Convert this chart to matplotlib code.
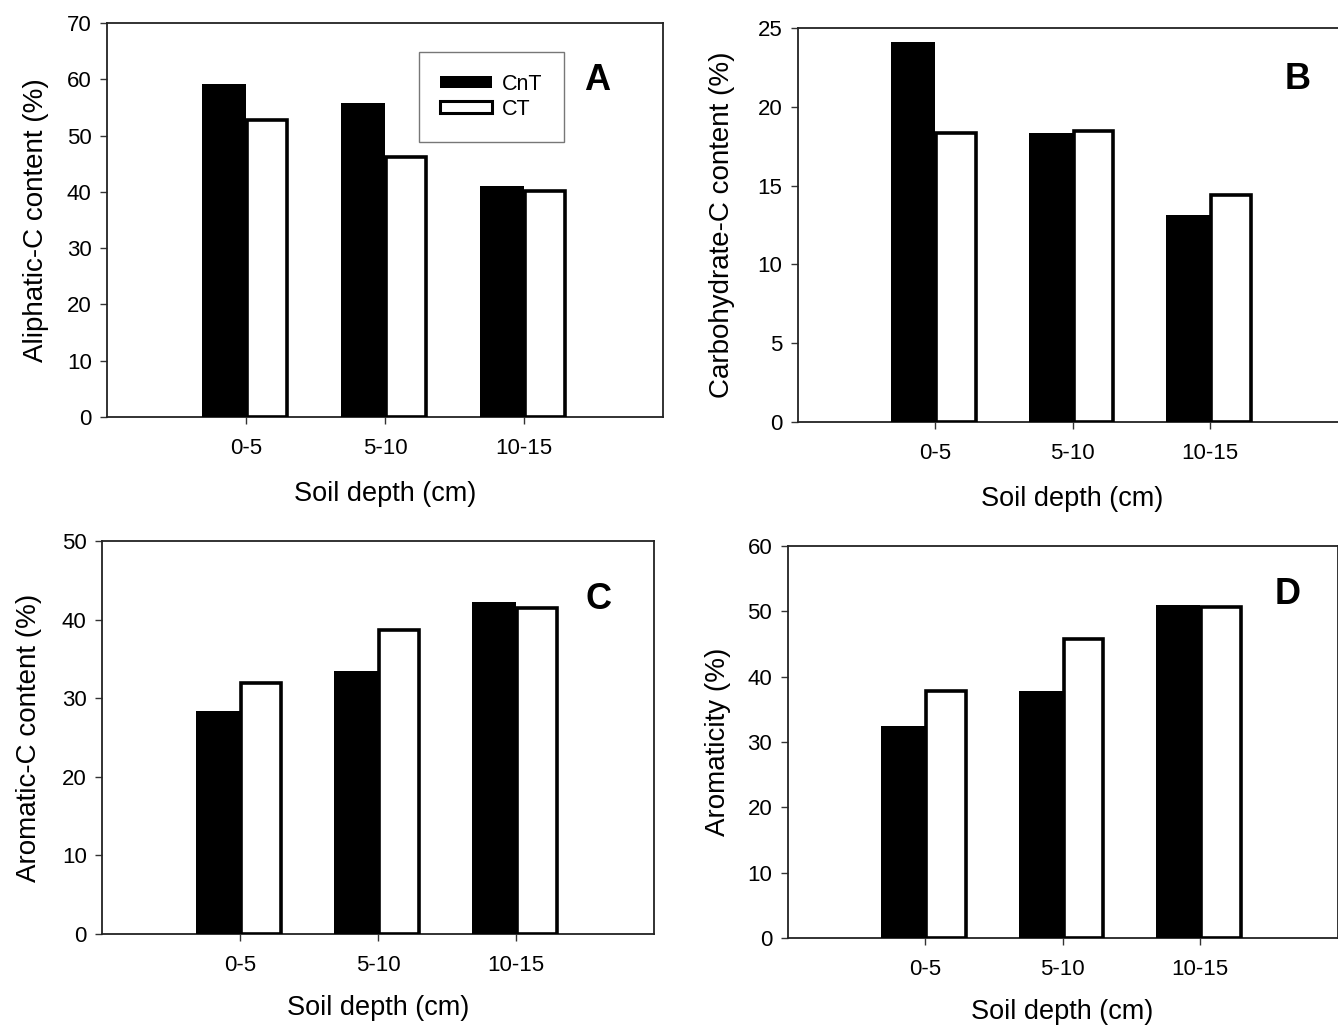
import matplotlib
matplotlib.use("Agg")
import matplotlib.pyplot as plt
from matplotlib.patches import Patch
import numpy as np

plt.rcParams['font.family'] = ['Liberation Sans', 'DejaVu Sans']

depths = ["0-5", "5-10", "10-15"]
series_names = ["CnT", "CT"]

aliphatic_cnt = [59.1, 55.7, 41.0]
aliphatic_ct = [52.8, 46.2, 40.1]
carbohydrate_cnt = [24.1, 18.35, 13.15]
carbohydrate_ct = [18.35, 18.45, 14.4]
aromatic_cnt = [28.4, 33.5, 42.2]
aromatic_ct = [31.9, 38.7, 41.5]
aromaticity_cnt = [32.5, 37.8, 51.0]
aromaticity_ct = [37.8, 45.7, 50.7]

W, H = 1338, 1025
fig = plt.figure(figsize=(W / 100, H / 100), dpi=100)

def px_axes(left, top, width, height):
    return fig.add_axes([left / W, (H - top - height) / H, width / W, height / H])

panels = [
    dict(rect=(107, 23, 556, 394), cnt=aliphatic_cnt, ct=aliphatic_ct, ymax=70, step=10,
         ylabel="Aliphatic-C content (%)", letter="A", lpos=(0.882, 0.855), legend=True,
         ylpad=13, xlpad=16),
    dict(rect=(797.5, 28, 550, 394), cnt=carbohydrate_cnt, ct=carbohydrate_ct, ymax=25, step=5,
         ylabel="Carbohydrate-C content (%)", letter="B", lpos=(0.91, 0.87), legend=False,
         ylpad=16, xlpad=16),
    dict(rect=(102, 541, 552, 393), cnt=aromatic_cnt, ct=aromatic_ct, ymax=50, step=10,
         ylabel="Aromatic-C content (%)", letter="C", lpos=(0.90, 0.85), legend=False,
         ylpad=14, xlpad=14),
    dict(rect=(787.5, 546, 550, 392), cnt=aromaticity_cnt, ct=aromaticity_ct, ymax=60, step=10,
         ylabel="Aromaticity (%)", letter="D", lpos=(0.91, 0.875), legend=False,
         ylpad=12, xlpad=14),
]

x = np.arange(1, len(depths) + 1)

for p in panels:
    ax = px_axes(*p["rect"])
    ax.bar(x - 0.32, p["cnt"], width=0.32, align="edge", color="black",
           edgecolor="black", linewidth=0, zorder=3)
    ax.bar(x + 0.01, p["ct"], width=0.285, align="edge", color="white",
           edgecolor="black", linewidth=2.6, zorder=3)
    ax.set_xlim(0, 4)
    ax.set_ylim(0, p["ymax"])
    ax.set_yticks(np.arange(0, p["ymax"] + 0.1, p["step"]))
    ax.set_xticks(x)
    ax.set_xticklabels(depths)
    ax.tick_params(axis="both", direction="out", length=5, width=1, labelsize=16, color="#333333")
    ax.tick_params(axis="x", pad=10)
    ax.tick_params(axis="y", pad=6)
    for s in ax.spines.values():
        s.set_linewidth(1.3)
        s.set_color("#222222")
    ax.set_xlabel("Soil depth (cm)", fontsize=19.5, labelpad=p["xlpad"])
    ax.set_ylabel(p["ylabel"], fontsize=20, labelpad=p["ylpad"])
    ax.text(p["lpos"][0], p["lpos"][1], p["letter"], transform=ax.transAxes,
            fontsize=26, fontweight="bold", ha="center", va="center")
    if p["legend"]:
        handles = [Patch(facecolor="black", edgecolor="black", linewidth=0),
                   Patch(facecolor="white", edgecolor="black", linewidth=2.2)]
        leg = ax.legend(handles, series_names, loc="upper left",
                        bbox_to_anchor=(0.561, 0.926), fontsize=15.5,
                        frameon=True, fancybox=False, framealpha=1,
                        handlelength=2.4, handleheight=0.5, handletextpad=0.45,
                        labelspacing=0.2, borderpad=1.0, borderaxespad=0)
        leg.get_frame().set_edgecolor("#777777")
        leg.get_frame().set_linewidth(1.0)

fig.savefig("out.png", dpi=100)
